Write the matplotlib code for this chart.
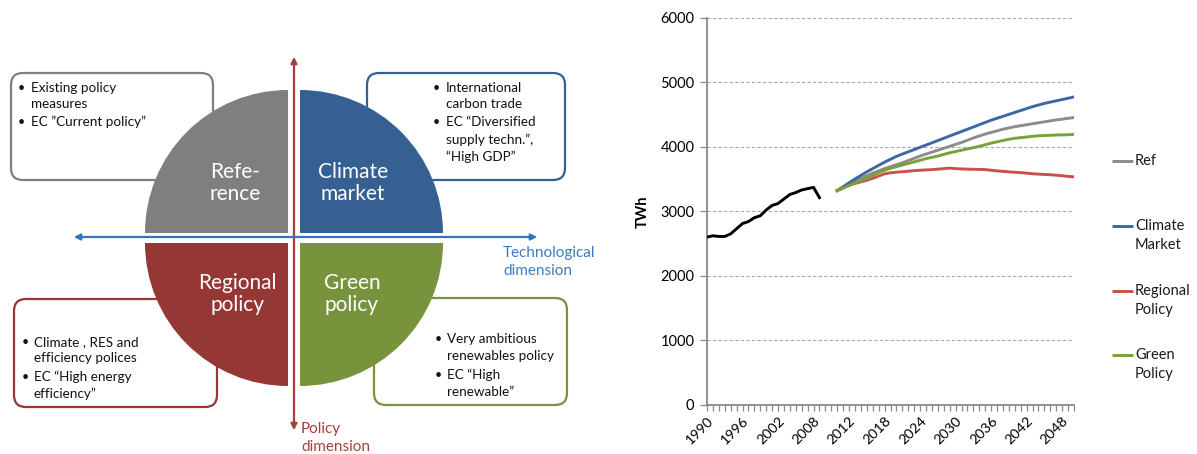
import numpy as np
import matplotlib
matplotlib.use("Agg")
import matplotlib.pyplot as plt
import matplotlib.transforms as mtransforms
from matplotlib.patches import Wedge, FancyBboxPatch, FancyArrowPatch
from matplotlib.ticker import FixedLocator

plt.rcParams['font.family'] = ['Lato', 'DejaVu Sans']

# ---------------------------------------------------------------- chart data
hist_years = list(range(1990, 2012))
proj_years = list(range(2010, 2051))
categories = [str(y) for y in hist_years + proj_years]

# electricity demand, TWh
historic = [2600, 2620, 2610, 2610, 2650, 2730, 2810, 2840, 2900, 2930,
            3020, 3090, 3120, 3190, 3260, 3290, 3330, 3350, 3370, 3210]

ref = [3320, 3370, 3420, 3465, 3510, 3550, 3590, 3625, 3660, 3690,
       3720, 3750, 3785, 3820, 3855, 3885, 3915, 3945, 3975, 4005,
       4035, 4065, 4100, 4135, 4165, 4195, 4220, 4245, 4270, 4290,
       4310, 4325, 4340, 4355, 4370, 4385, 4400, 4415, 4425, 4440, 4450]

climate_market = [3320, 3380, 3440, 3500, 3555, 3610, 3660, 3710, 3760, 3805,
                  3850, 3885, 3920, 3955, 3990, 4025, 4060, 4095, 4130, 4165,
                  4200, 4235, 4270, 4305, 4340, 4375, 4410, 4440, 4470, 4500,
                  4530, 4560, 4590, 4620, 4645, 4670, 4690, 4710, 4730, 4750, 4770]

regional_policy = [3320, 3360, 3400, 3430, 3455, 3480, 3510, 3545, 3580, 3595,
                   3605, 3612, 3620, 3628, 3635, 3640, 3645, 3652, 3660, 3668,
                   3660, 3655, 3652, 3650, 3648, 3645, 3635, 3625, 3618, 3610,
                   3603, 3598, 3590, 3580, 3575, 3570, 3565, 3558, 3550, 3540, 3532]

green_policy = [3320, 3360, 3400, 3440, 3475, 3510, 3555, 3600, 3635, 3665,
                3690, 3715, 3740, 3765, 3790, 3815, 3835, 3855, 3880, 3905,
                3925, 3945, 3965, 3985, 4005, 4030, 4055, 4075, 4095, 4115,
                4130, 4140, 4150, 4160, 4168, 4172, 4176, 4180, 4182, 4185, 4190]

series_names = ['Ref', 'Climate\nMarket', 'Regional\nPolicy', 'Green\nPolicy']
series_values = [ref, climate_market, regional_policy, green_policy]
series_colors = ['#8C8C8C', '#3D68A3', '#C9504E', '#78A13A']

y_ticks = [0, 1000, 2000, 3000, 4000, 5000, 6000]

# ---------------------------------------------------------------- scenario diagram text
quadrant_labels = ['Refe-\nrence', 'Climate\nmarket', 'Regional\npolicy', 'Green\npolicy']
quadrant_colors = ['#7F7F7F', '#376092', '#953735', '#77933C']

box_bullets = [
    [['Existing policy', 'measures'], ['EC \u201dCurrent policy\u201d']],
    [['International', 'carbon trade'],
     ['EC \u201cDiversified', 'supply techn.\u201d,', '\u201cHigh GDP\u201d']],
    [['Climate , RES and', 'efficiency polices'], ['EC \u201cHigh energy', 'efficiency\u201d']],
    [['Very ambitious', 'renewables policy'], ['EC \u201cHigh', 'renewable\u201d']],
]

# ---------------------------------------------------------------- figure
W, H = 1197, 454
fig = plt.figure(figsize=(W / 100, H / 100), dpi=100)

# pixel-space canvas for the diagram
cv = fig.add_axes([0, 0, 1, 1])
cv.set_xlim(0, W)
cv.set_ylim(H, 0)
cv.axis('off')

# rounded description boxes (behind the quarter discs)
box_geom = [(11, 73, 213, 180), (367, 73, 565, 180), (14, 299, 217, 407), (374, 298, 567, 405)]
for (x0, y0, x1, y1), ec in zip(box_geom, quadrant_colors):
    cv.add_patch(FancyBboxPatch((x0, y0), x1 - x0, y1 - y0,
                                boxstyle='round,pad=0,rounding_size=12',
                                fc='white', ec=ec, lw=1.6, zorder=1))

# bullet text inside boxes
box_text_pos = [
    (21, 31, [[88, 104], [122]]),
    (436, 446, [[88, 104], [122, 140, 157]]),
    (25, 34, [[342, 358], [377, 394]]),
    (438, 447, [[339, 356], [375, 392]]),
]
for bullets, (bx, tx, ys) in zip(box_bullets, box_text_pos):
    for lines, yl in zip(bullets, ys):
        cv.text(bx, yl[0], '\u2022', fontsize=9, ha='center', va='center',
                color='#111111', zorder=5)
        for line, y in zip(lines, yl):
            cv.text(tx, y, line, fontsize=9.7, ha='left', va='center',
                    color='#111111', zorder=5)

# quarter discs
r = 143
centers = [(288, 233), (300, 233), (288, 243), (300, 243)]
angles = [(180, 270), (270, 360), (90, 180), (0, 90)]
label_pos = [(235, 183), (353, 183), (237, 294), (352, 294)]
for (cx, cy), (t1, t2), col, lab, (lx, ly) in zip(centers, angles, quadrant_colors,
                                                   quadrant_labels, label_pos):
    cv.add_patch(Wedge((cx, cy), r, t1, t2, fc=col, ec='none', zorder=2))
    cv.text(lx, ly, lab, fontsize=15, color='white', ha='center', va='center',
            linespacing=1.15, zorder=4)

# dimension arrows
cv.add_patch(FancyArrowPatch((294, 433), (294, 54), arrowstyle='<|-|>',
                             mutation_scale=9, lw=1.6, color='#A3403D', zorder=3))
cv.add_patch(FancyArrowPatch((71, 237), (540, 237), arrowstyle='<|-|>',
                             mutation_scale=9, lw=1.6, color='#2F75C0', zorder=3))
cv.text(503, 262, 'Technological\ndimension', fontsize=11, color='#3A7DC6',
        ha='left', va='center', linespacing=1.35)
cv.text(301, 438, 'Policy\ndimension', fontsize=11, color='#A3403D',
        ha='left', va='center', linespacing=1.35)

# ---------------------------------------------------------------- line chart
ax = fig.add_axes([707 / W, 1 - 405 / H, (1074 - 707) / W, (405 - 17.5) / H])
x_all = np.arange(len(categories))
proj_start = len(hist_years)
x_hist = x_all[:len(historic)]
x_proj = x_all[proj_start:proj_start + len(proj_years)]

ax.plot(x_hist, historic, color='black', lw=2.1, solid_joinstyle='round', zorder=4)
for vals, col in zip(series_values, series_colors):
    ax.plot(x_proj, vals, color=col, lw=2.1, solid_joinstyle='round', zorder=3)

ax.set_xlim(0, len(categories) - 1)
ax.set_ylim(0, 6000)
ax.set_yticks(y_ticks)
ax.set_yticklabels([str(v) for v in y_ticks])
ax.yaxis.grid(True, color='#A8A8A8', lw=0.8, ls=(0, (3, 2)))
ax.set_axisbelow(True)

major = x_all[::6]
ax.xaxis.set_major_locator(FixedLocator(major))
ax.xaxis.set_minor_locator(FixedLocator(x_all))
ax.set_xticklabels([categories[i] for i in major], rotation=45, ha='right',
                   rotation_mode='anchor')
shift = mtransforms.ScaledTranslation(6 / 100, -6 / 100, fig.dpi_scale_trans)
for lbl in ax.get_xticklabels():
    lbl.set_transform(lbl.get_transform() + shift)
for s in ('top', 'right'):
    ax.spines[s].set_visible(False)
for s in ('left', 'bottom'):
    ax.spines[s].set_color('#888888')
    ax.spines[s].set_linewidth(1.3)
ax.tick_params(axis='x', which='both', length=4, color='#888888', width=0.9,
               labelsize=10.3, pad=3)
ax.tick_params(axis='y', length=5, color='#888888', width=0.9, labelsize=10.5, pad=4)
ax.set_ylabel('TWh', fontsize=10.5, fontweight='bold', labelpad=8)

# legend entries (key aligned with the first line of each label)
legend_y = [161, 226, 291, 355]
for name, col, y in zip(series_names, series_colors, legend_y):
    cv.plot([1112, 1133], [y, y], color=col, lw=2.1, solid_capstyle='butt')
    cv.text(1135, y - 7, name, fontsize=10.5, ha='left', va='top',
            linespacing=1.45, color='#1a1a1a')

fig.savefig('out.png', dpi=100)
